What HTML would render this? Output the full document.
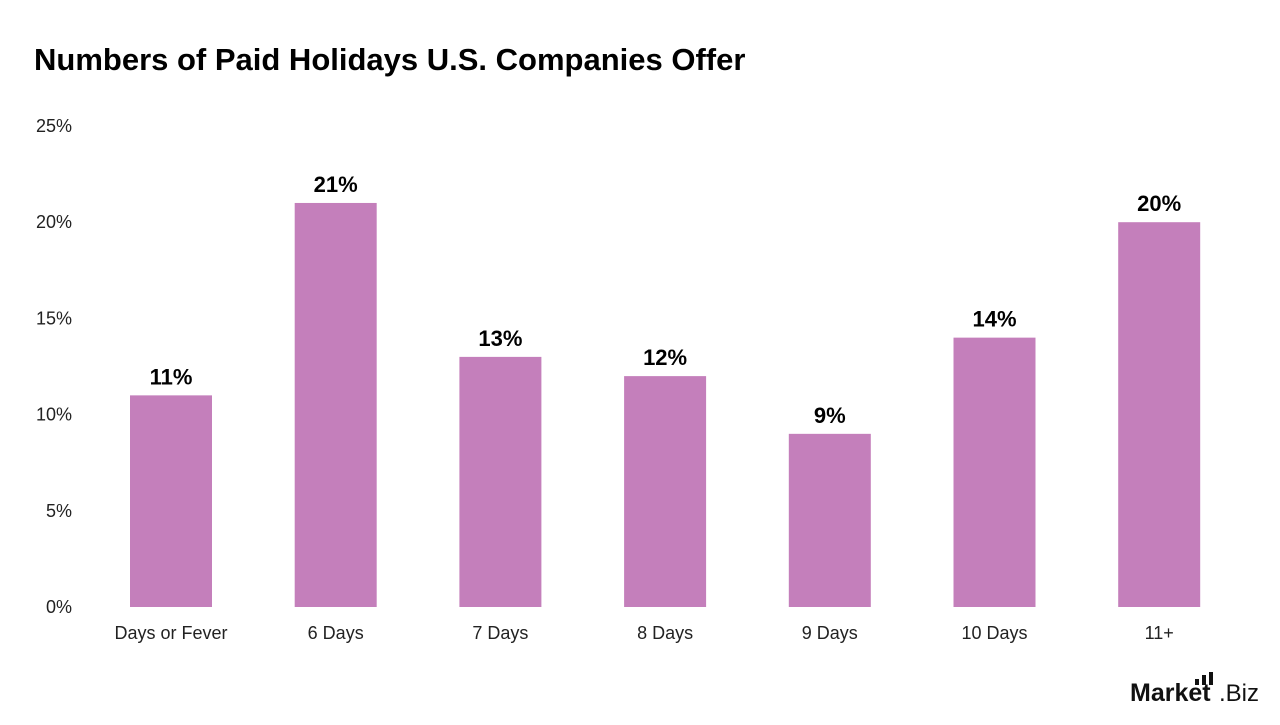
<!DOCTYPE html>
<html><head><meta charset="utf-8"><style>
body{margin:0;background:#fff;width:1280px;height:720px;overflow:hidden;font-family:"Liberation Sans",sans-serif;}
</style></head><body>
<svg id="chart" width="1280" height="720">
<text x="34" y="70" font-size="31" font-weight="bold" fill="#000">Numbers of Paid Holidays U.S.  Companies Offer</text>
<g id="yaxis"></g>
<g id="bars"></g>
<g id="xaxis"></g>
<g>
<text x="1130" y="701" font-size="25" font-weight="bold" fill="#111">Market</text>
<text x="1219" y="701" font-size="24" fill="#111">.Biz</text>
<rect x="1195" y="679" width="4" height="6" fill="#111"/>
<rect x="1202" y="675" width="4" height="10" fill="#111"/>
<rect x="1209" y="672" width="4" height="13" fill="#111"/>
</g>
</svg>
<script>
const categories=["Days or Fever","6 Days","7 Days","8 Days","9 Days","10 Days","11+"];
const values=[11,21,13,12,9,14,20];
const yTicks=[0,5,10,15,20,25];
const ns="http://www.w3.org/2000/svg";
const y0=607,yTop=126,yMax=25;
const y=v=>y0-(v/yMax)*(y0-yTop);
const x0=171,step=164.7,bw=82;
const x=i=>x0+i*step;
function mk(tag,attrs,parent,txt){const e=document.createElementNS(ns,tag);for(const k in attrs)e.setAttribute(k,attrs[k]);if(txt!==undefined)e.textContent=txt;parent.appendChild(e);return e;}
const ya=document.getElementById('yaxis'),ba=document.getElementById('bars'),xa=document.getElementById('xaxis');
yTicks.forEach(t=>{const e=mk('text',{x:72,y:y(t)+6,'font-size':18,'text-anchor':'end',fill:'#222'},ya,t+'%');

});
values.forEach((v,i)=>{
const r=mk('rect',{x:x(i)-bw/2,y:y(v),width:bw,height:y0-y(v),fill:'#c47fbb'},ba);


const l=mk('text',{x:x(i),y:y(v)-11,'font-size':22,'font-weight':'bold','text-anchor':'middle',fill:'#000'},ba,v+'%');


const c=mk('text',{x:x(i),y:639,'font-size':18,'text-anchor':'middle',fill:'#222'},xa,categories[i]);


});
</script>
</body></html>
